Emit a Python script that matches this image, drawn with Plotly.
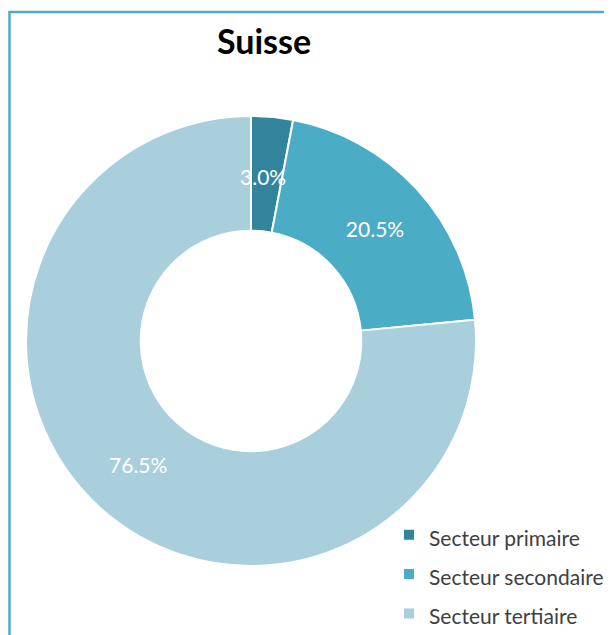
import math
import plotly.graph_objects as go

categories = ["Secteur primaire", "Secteur secondaire", "Secteur tertiaire"]
values = [3.0, 20.5, 76.5]
colors = ["#31849B", "#4BACC6", "#A9CFDD"]

W, H = 612, 635
FONT = "Lato, 'Open Sans', sans-serif"
HOLE = 0.49

# pie geometry (figure pixels; page body adds an 8px offset)
CX, CY, R = 243, 333, 225
dom_x = [(CX - R) / W, (CX + R) / W]
dom_y = [(H - CY - R) / H, (H - CY + R) / H]

legend_labels = [f"<span style='font-size:21px'>{c}</span>" for c in categories]

# the thinnest slice gets its label placed at mid-ring (plotly would push it outward)
total = sum(values)
small = [v / total < 0.05 for v in values]
textpos = ["none" if s else "inside" for s in small]

fig = go.Figure(go.Pie(
    labels=legend_labels,
    values=values,
    hole=HOLE,
    sort=False,
    direction="clockwise",
    rotation=0,
    marker=dict(colors=colors, line=dict(color="white", width=2)),
    texttemplate="%{value:.1f}%",
    textposition=textpos,
    insidetextorientation="horizontal",
    textfont=dict(family=FONT, size=21, color="white"),
    hoverinfo="none",
    domain=dict(x=dom_x, y=dom_y),
))

annotations = []
cum = 0.0
r_pix = (dom_y[1] - dom_y[0]) * H / 2 * 0.987
for v, s in zip(values, small):
    mid = (cum + v / 2) / total * 2 * math.pi
    cum += v
    if not s:
        continue
    rm = r_pix * (1 + HOLE) / 2
    px = (dom_x[0] + dom_x[1]) / 2 * W + rm * math.sin(mid) - 4
    py = (dom_y[0] + dom_y[1]) / 2 * H + rm * math.cos(mid)
    annotations.append(dict(x=px / W, y=py / H, xref="paper", yref="paper",
                            text=f"{v:.1f}%", showarrow=False,
                            xanchor="center", yanchor="middle",
                            font=dict(family=FONT, size=21, color="white")))

fig.update_layout(
    width=W, height=H,
    margin=dict(l=0, r=0, t=0, b=0),
    paper_bgcolor="white",
    plot_bgcolor="white",
    font=dict(family=FONT, color="#404040"),
    uniformtext=dict(minsize=21, mode="show"),
    title=dict(text="<b>Suisse</b>", x=256 / W, xanchor="center",
               y=1 - 34 / H, yanchor="middle",
               font=dict(family=FONT, size=34, color="#000000")),
    showlegend=True,
    legend=dict(x=381 / W, xanchor="left", y=1 - 502 / H, yanchor="top",
                font=dict(family=FONT, size=28, color="#404040"),
                bgcolor="rgba(0,0,0,0)"),
    annotations=annotations,
    shapes=[dict(type="rect", xref="paper", yref="paper",
                 x0=1.5 / W, x1=1.05, y0=-0.05, y1=1 - 4 / H,
                 line=dict(color="#4BACC6", width=2.5), layer="below")],
)

fig.write_html("out.html")
